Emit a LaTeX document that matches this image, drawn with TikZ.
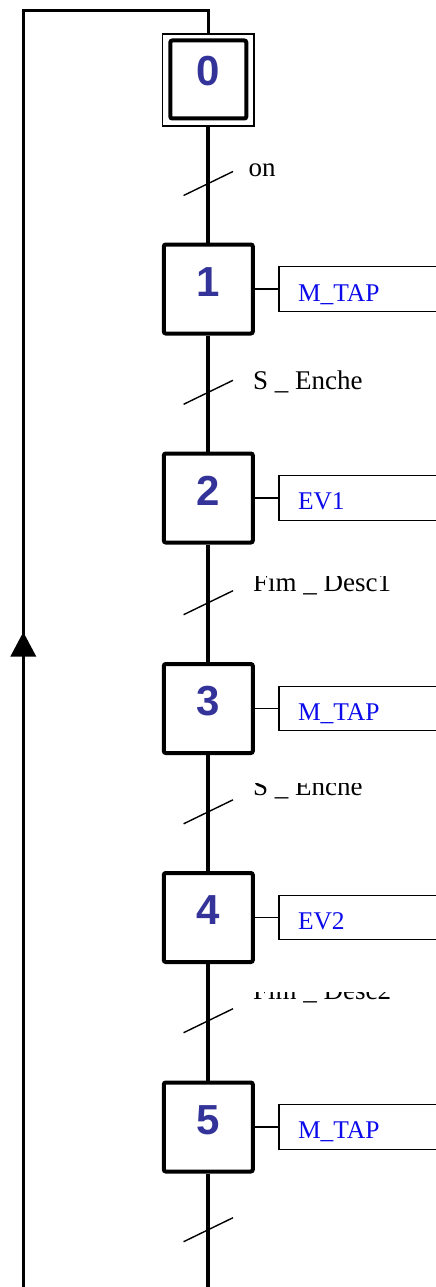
\documentclass[tikz,border=0pt]{standalone}
\usepackage{fontspec}
\setmainfont{Liberation Serif}
\newfontfamily\numfont{Liberation Sans}
\usetikzlibrary{arrows.meta}
\definecolor{numblue}{RGB}{51,51,153}
\definecolor{actblue}{RGB}{10,10,235}
\begin{document}
\begin{tikzpicture}[x=1pt,y=-1pt,
  stepbox/.style={draw, line width=4pt, rounded corners=2pt, minimum width=89pt, minimum height=89pt, inner sep=0pt},
  initinner/.style={draw, line width=4pt, rounded corners=2pt, minimum width=76pt, minimum height=78pt, inner sep=0pt},
  initouter/.style={draw, line width=1.3pt, minimum width=91.5pt, minimum height=92pt, inner sep=0pt},
  num/.style={font=\numfont\bfseries\fontsize{42}{42}\selectfont, text=numblue, inner sep=0pt},
  actbox/.style={draw, line width=1.3pt, minimum width=170pt, minimum height=44.5pt, inner sep=0pt, anchor=west},
  acttext/.style={font=\fontsize{25.5}{25.5}\selectfont, text=actblue, inner sep=0pt, anchor=base west},
  cond/.style={font=\fontsize{27}{27}\selectfont, inner sep=0pt, anchor=base west},
  mainline/.style={line width=4.3pt},
  loopline/.style={line width=3.4pt, line join=miter},
  thinline/.style={line width=1.3pt},
  tickline/.style={line width=1.4pt}
]
\useasboundingbox (0,0) rectangle (436,1287);

% steps
\node[initouter] (s0o) at (208.3,80) {};
\node[initinner] (s0) at (208.3,79.5) {};
\node[stepbox] (s1) at (208.3,289) {};
\node[stepbox] (s2) at (208.3,498) {};
\node[stepbox] (s3) at (208.3,708.5) {};
\node[stepbox] (s4) at (208.3,917.5) {};
\node[stepbox] (s5) at (208.3,1127) {};

% step numbers
\node[num] (n0) at ([yshift=8pt]s0.center) {0};
\node[num] (n1) at ([yshift=7pt]s1.center) {1};
\node[num] (n2) at ([yshift=7pt]s2.center) {2};
\node[num] (n3) at ([yshift=7pt]s3.center) {3};
\node[num] (n4) at ([yshift=7pt]s4.center) {4};
\node[num] (n5) at ([yshift=7pt]s5.center) {5};

% action boxes
\node[actbox] (a1) at ([xshift=23.5pt]s1.east) {};
\node[actbox] (a2) at ([xshift=23.5pt]s2.east) {};
\node[actbox] (a3) at ([xshift=23.5pt]s3.east) {};
\node[actbox] (a4) at ([xshift=23.5pt]s4.east) {};
\node[actbox] (a5) at ([xshift=23.5pt]s5.east) {};
\draw[thinline] (s1.east) -- (a1.west);
\draw[thinline] (s2.east) -- (a2.west);
\draw[thinline] (s3.east) -- (a3.west);
\draw[thinline] (s4.east) -- (a4.west);
\draw[thinline] (s5.east) -- (a5.west);
\node[acttext] (at1) at ([xshift=19.5pt,yshift=-12pt]a1.west) {M\_TAP};
\node[acttext] (at2) at ([xshift=19.5pt,yshift=-11pt]a2.west) {EV1};
\node[acttext] (at3) at ([xshift=19.5pt,yshift=-11.5pt]a3.west) {M\_TAP};
\node[acttext] (at4) at ([xshift=19.5pt,yshift=-11.5pt]a4.west) {EV2};
\node[acttext] (at5) at ([xshift=19.5pt,yshift=-11pt]a5.west) {M\_TAP};

% main vertical line
\coordinate (top) at (208.3,10.7);
\coordinate (bot) at (208.3,1292);
\draw[mainline] (s0o.south) -- (s1.north);
\draw[mainline] (s1.south) -- (s2.north);
\draw[mainline] (s2.south) -- (s3.north);
\draw[mainline] (s3.south) -- (s4.north);
\draw[mainline] (s4.south) -- (s5.north);
\draw[mainline] (s5.south) -- (bot);

% loop back
\coordinate (lb) at (23.3,1292);
\coordinate (lt) at (23.3,10.7);
\coordinate (arr) at (23.3,632);
\draw[loopline] (lb) -- (lt) -- (top) -- (s0o.north);
\draw[loopline, -{Triangle[length=24.5pt,width=25pt]}] (lb) -- (arr);

% transitions
\coordinate (t1) at (208.3,183.5);
\coordinate (t2) at (208.3,392.3);
\coordinate (t3) at (208.3,602.7);
\coordinate (t4) at (208.3,811.8);
\coordinate (t5) at (208.3,1020.7);
\coordinate (t6) at (208.3,1229.7);
\foreach \t in {t1,t2,t3,t4,t5,t6}{
  \draw[tickline] ([xshift=-24.7pt,yshift=-12pt]\t) -- ([xshift=24.7pt,yshift=12pt]\t);
}

% receptivities
\node[cond] (c1) at (248.5,176) {on};
\node[cond] (c2) at (253,389) {S \_ Enche};
\begin{scope}
  \clip (240,576) rectangle (436,640);
  \node[cond] (c3) at (253,591.7) {Fim \_ Desc1};
\end{scope}
\begin{scope}
  \clip (240,783.5) rectangle (436,840);
  \node[cond] (c4) at (253,795) {S \_ Enche};
\end{scope}
\begin{scope}
  \clip (240,992.5) rectangle (436,1040);
  \node[cond] (c5) at (253,999.3) {Fim \_ Desc2};
\end{scope}
\end{tikzpicture}
\end{document}
